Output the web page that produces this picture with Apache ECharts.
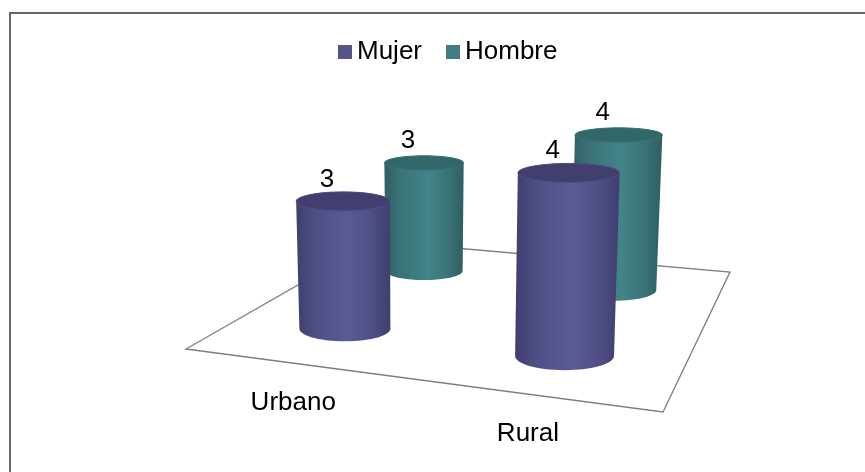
<!DOCTYPE html>
<html>
<head>
<meta charset="utf-8">
<style>html,body{margin:0;padding:0;background:#fff}#c{width:865px;height:472px}</style>
<script src="https://cdn.jsdelivr.net/npm/echarts@6/dist/echarts.min.js"></script>
</head>
<body>
<div id="c"></div>
<script>
var categories = ['Urbano', 'Rural'];
var seriesNames = ['Mujer', 'Hombre'];
var mujer = [2.8, 3.7];
var hombre = [2.8, 3.65];

var FONT = '26px "Liberation Sans", Arial, sans-serif';
var DEPTH = {Mujer: 0.25, Hombre: 0.75};
var CAT_POS = [0.25, 0.742];
var FLOOR = {a: [186, 349], b: [663, 412], c: [730, 272], d: [375, 241]};

function floorPoint(u, v) {
  function mix(i) {
    return FLOOR.a[i] * (1 - u) * (1 - v) + FLOOR.b[i] * u * (1 - v) +
           FLOOR.d[i] * (1 - u) * v + FLOOR.c[i] * u * v;
  }
  return [mix(0), mix(1)];
}
function radiusAt(u, v) { return 47 + 8 * u - 14 * v; }
function flatness(y) { return 0.165 + (y - 135) * 0.00057; }

function arcPoints(api, cx, cy, rx, ry, from, to) {
  var pts = [];
  for (var i = 0; i <= 30; i++) {
    var t = from + (to - from) * i / 30;
    pts.push(api.coord([cx + rx * Math.cos(t), cy + ry * Math.sin(t)]));
  }
  return pts;
}

function cylinder(depth, palette) {
  return function (params, api) {
    var idx = api.value(0), val = api.value(1);
    var u = CAT_POS[idx], v = depth;
    var base = floorPoint(u, v);
    var bx = base[0], by = base[1] - 7;
    var r = radiusAt(u, v);
    var h = val * r;
    var lean = (bx - 430) * 0.00017 * h;
    var tx = bx + lean, ty = by - h, tr = r * 1.03;
    var bry = r * flatness(by), trY = tr * flatness(ty);
    var body = arcPoints(api, bx, by, r, bry, 0, Math.PI)
      .concat(arcPoints(api, tx, ty, tr, trY, Math.PI, 2 * Math.PI));
    var grad = {
      type: 'linear', x: 0, y: 0, x2: 1, y2: 0,
      colorStops: [
        {offset: 0, color: palette.edge},
        {offset: 0.2, color: palette.mid},
        {offset: 0.55, color: palette.light},
        {offset: 0.8, color: palette.mid},
        {offset: 1, color: palette.edge}
      ]
    };
    var lp = api.coord([tx - 16, ty - 22]);
    return {
      type: 'group',
      children: [
        {type: 'polygon', shape: {points: body}, style: {fill: grad}},
        {type: 'polygon', shape: {points: arcPoints(api, tx, ty, tr, trY, 0, 2 * Math.PI)},
          style: {fill: palette.top, stroke: palette.mid, lineWidth: 1}},
        {type: 'text', style: {text: String(Math.round(val)), x: lp[0], y: lp[1],
          font: FONT, fill: '#000', align: 'center', verticalAlign: 'middle'}}
      ]
    };
  };
}

function floorItem(params, api) {
  var pts = [FLOOR.a, FLOOR.b, FLOOR.c, FLOOR.d].map(function (p) { return api.coord(p); });
  var children = [{type: 'polygon', shape: {points: pts},
    style: {fill: '#fff', stroke: '#7d7d7d', lineWidth: 1.3}}];
  categories.forEach(function (name, i) {
    var p = floorPoint(CAT_POS[i], 0);
    var c = api.coord([p[0] - 12, p[1] + 38]);
    children.push({type: 'text', style: {text: name, x: c[0], y: c[1], font: FONT, fill: '#000',
      align: 'center', verticalAlign: 'middle'}});
  });
  return {type: 'group', children: children};
}

function rows(values) { return values.map(function (v, i) { return [i, v]; }); }

var chart = echarts.init(document.getElementById('c'), null, {renderer: 'canvas'});
chart.setOption({
  animation: false,
  backgroundColor: '#fff',
  graphic: [
    {type: 'rect', shape: {x: 9, y: 12, width: 856, height: 2}, style: {fill: '#666'}, silent: true},
    {type: 'rect', shape: {x: 9, y: 12, width: 2, height: 460}, style: {fill: '#666'}, silent: true}
  ],
  grid: {left: 0, right: 0, top: 0, bottom: 0},
  xAxis: {type: 'value', min: 0, max: 865, show: false},
  yAxis: {type: 'value', min: 0, max: 472, inverse: true, show: false},
  legend: {
    left: 333, top: 34, icon: 'rect', itemWidth: 14, itemHeight: 14, itemGap: 24,
    selectedMode: false, data: seriesNames,
    textStyle: {fontFamily: '"Liberation Sans", Arial, sans-serif', fontSize: 26, color: '#000'}
  },
  series: [
    {type: 'custom', name: 'floor', z: 1, clip: false, data: [[0, 0]], renderItem: floorItem, silent: true},
    {type: 'custom', name: seriesNames[1], z: 2, clip: false, data: rows(hombre), silent: true,
      itemStyle: {color: '#417c82'},
      renderItem: cylinder(DEPTH.Hombre, {edge: '#2e5f62', mid: '#3a7277', light: '#428489', top: '#32676a'})},
    {type: 'custom', name: seriesNames[0], z: 3, clip: false, data: rows(mujer), silent: true,
      itemStyle: {color: '#53548a'},
      renderItem: cylinder(DEPTH.Mujer, {edge: '#3f3e6e', mid: '#4f4f86', light: '#5b5b95', top: '#403f6e'})}
  ]
});
</script>
</body>
</html>
